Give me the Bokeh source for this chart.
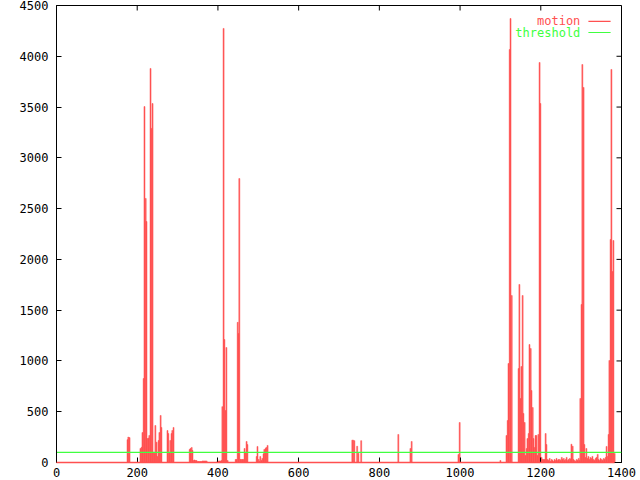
import math
from bokeh.plotting import figure
from bokeh.models import Range1d, LinearAxis, FixedTicker, Label
from bokeh.embed import file_html
from bokeh.resources import INLINE

# ---- data (frame index, motion value) ----
frames = [176, 178, 181,
          208, 211, 213, 216, 218, 221, 223, 225, 228, 230, 233, 235, 238, 240, 243,
          245, 248, 250, 253, 255, 258, 260, 275, 277, 280, 282, 285, 287, 290,
          330, 332, 335, 337, 339, 342, 344, 347, 349, 352, 354, 357, 359, 362, 364,
          367, 369, 372,
          399, 401, 404, 406, 409, 411, 414, 416, 419, 421, 424,
          444, 446, 449, 451, 453, 456, 458, 461, 463, 466, 468, 471, 473,
          496, 498, 501, 503, 505, 508, 510, 513, 515, 518, 520, 523,
          733, 735, 738, 745, 748, 755,
          847, 877, 880, 996, 999, 1100,
          1115, 1118, 1120, 1123, 1125, 1128,
          1145, 1147, 1150, 1152, 1155, 1157, 1160, 1162, 1165, 1167, 1170, 1172,
          1175, 1177, 1180, 1182, 1185, 1187, 1189, 1192, 1194, 1197, 1199, 1202,
          1204, 1207, 1209, 1212, 1214, 1217,
          1219, 1222, 1224, 1227, 1229, 1232, 1234, 1237, 1239, 1242, 1244, 1247,
          1249, 1252, 1254, 1257, 1259, 1262, 1264, 1267, 1269, 1272, 1274, 1276,
          1279, 1281, 1284, 1286, 1289, 1291, 1294, 1296,
          1298, 1301, 1303, 1306, 1308, 1311, 1313,
          1316, 1318, 1321, 1323, 1326, 1328, 1331, 1333, 1336, 1338, 1341, 1343,
          1346, 1348, 1351, 1353, 1356, 1358, 1361,
          1363, 1366, 1368, 1370, 1373, 1375, 1378, 1380, 1383]
motion = [225, 250, 245,
          138, 150, 295, 827, 3505, 2600, 2373, 236, 240, 266, 3880, 3290, 3535, 100, 90,
          364, 200, 60, 217, 295, 463, 345, 315, 285, 98, 217, 285, 315, 345,
          128, 138, 148, 118, 20, 25, 20, 20, 10, 10, 10, 10, 10, 15, 15,
          15, 15, 15,
          15, 15, 15, 15, 20, 550, 4274, 1211, 512, 1132, 20,
          30, 30, 1380, 1270, 2796, 30, 30, 30, 30, 138, 96, 207, 177,
          59, 158, 30, 10, 59, 20, 40, 85, 128, 138, 148, 168,
          220, 220, 215, 160, 90, 215,
          276, 138, 207, 79, 394, 20,
          266, 414, 975, 4067, 4372, 1644,
          925, 1753, 630, 945, 1644, 483, 394, 69, 138, 236, 285, 1162,
          1122, 709, 541, 236, 148, 266, 266, 69, 276, 3939, 3535, 49,
          30, 30, 30, 285, 177, 30,
          20, 40, 10, 30, 20, 10, 30, 20, 40, 20, 30, 30,
          20, 50, 30, 40, 20, 30, 50, 20, 30, 40, 30, 180,
          160, 30, 20, 10, 30, 20, 40, 20,
          630, 1556, 3919, 3693, 177, 49, 138,
          40, 60, 30, 50, 40, 60, 30, 20, 40, 50, 80, 30,
          20, 40, 30, 20, 40, 30, 50,
          158, 60, 276, 1004, 2196, 3870, 1880, 2186, 89]
threshold = 100
x_ticks = [0, 200, 400, 600, 800, 1000, 1200, 1400]
y_ticks = [0, 500, 1000, 1500, 2000, 2500, 3000, 3500, 4000, 4500]
series_names = ["motion", "threshold"]

RED = "#ff5050"
GREEN = "#40ff40"
FONT = "DejaVu Sans Mono"
FS = "12px"

XMIN, XMAX = 0, 1400
YMIN, YMAX = 0, 4500

p = figure(width=638, height=479, output_backend="svg", toolbar_location=None,
           x_range=Range1d(XMIN, XMAX), y_range=Range1d(YMIN, YMAX),
           x_axis_location=None, y_axis_location=None,
           min_border_left=56, min_border_right=17, min_border_top=5,
           min_border_bottom=17)
p.grid.visible = False
p.outline_line_color = "black"
p.outline_line_width = 1
p.outline_line_alpha = 1.0
p.background_fill_color = "white"
p.border_fill_color = "white"


def make_axis(ticks, standoff):
    ax = LinearAxis(ticker=FixedTicker(ticks=ticks))
    ax.axis_line_color = "black"
    ax.axis_line_width = 1
    ax.major_tick_in = 5
    ax.major_tick_out = 0
    ax.major_tick_line_color = "black"
    ax.minor_tick_line_color = None
    ax.major_label_text_font = FONT
    ax.major_label_text_font_size = FS
    ax.major_label_text_color = "black"
    ax.major_label_standoff = standoff
    return ax


p.add_layout(make_axis(x_ticks, 5), "below")
p.add_layout(make_axis(y_ticks, 8), "left")

# mirrored tick marks on the top and right edges
p.ray(x=x_ticks, y=[YMAX] * len(x_ticks), length=5, length_units="screen",
      angle=-math.pi / 2, line_color="black", line_width=1)
p.ray(x=[XMAX] * len(y_ticks), y=y_ticks, length=5, length_units="screen",
      angle=math.pi, line_color="black", line_width=1)

# motion spikes
p.vbar(x=frames, top=motion, bottom=0, width=2.5, fill_color=RED,
       line_color=RED, line_width=0.5)
# zero baseline of the motion curve
base = p.line(x=[0, max(frames)], y=[0, 0], line_color=RED, line_width=1.5)
base.level = "overlay"

# threshold line
p.line(x=[XMIN, XMAX], y=[threshold, threshold], line_color=GREEN,
       line_width=1.3)

# gnuplot-style key (text right-aligned, sample on the right)
key_colors = [RED, GREEN]
key_y = [4343, 4234]
for name, col, ky in zip(series_names, key_colors, key_y):
    p.add_layout(Label(x=1298, y=ky, text=name, text_align="right",
                       text_baseline="middle", text_color=col,
                       text_font=FONT, text_font_size=FS))
    p.line(x=[1318, 1373], y=[ky, ky], line_color=col, line_width=1.2)

open("out.html", "w").write(file_html(p, INLINE))
